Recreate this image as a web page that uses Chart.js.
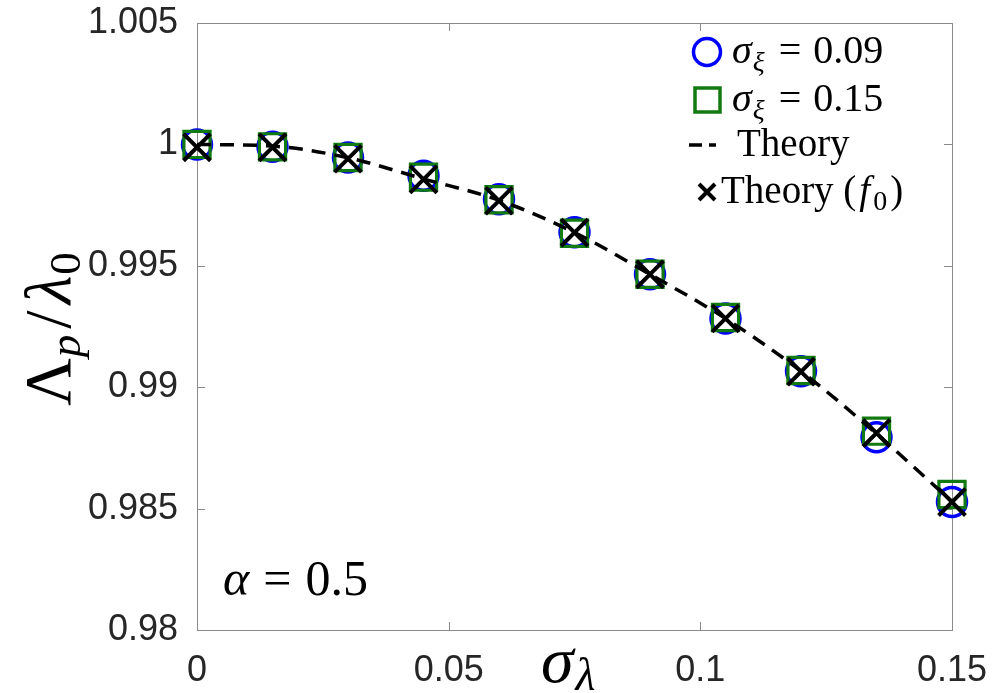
<!DOCTYPE html>
<html><head><meta charset="utf-8">
<script src="https://cdn.jsdelivr.net/npm/chart.js@4.4.0/dist/chart.umd.min.js"></script>
<style>html,body{margin:0;padding:0;background:#fff;} #wrap{width:996px;height:693px;position:relative;}</style>
</head><body><div id="wrap"><canvas id="c" width="996" height="693"></canvas></div>
<script>
// ---- data ----
const sigmaLambda = [0, 0.015, 0.03, 0.045, 0.06, 0.075, 0.09, 0.105, 0.12, 0.135, 0.15];
const sim009 = [1.0000, 0.99990, 0.99946, 0.99871, 0.99774, 0.99638, 0.99465, 0.99283, 0.99066, 0.98794, 0.98527];
const sim015 = [1.0000, 0.99990, 0.99946, 0.99865, 0.99772, 0.99634, 0.99465, 0.99287, 0.99069, 0.98819, 0.98558];
const theoryCurve = [1.0000, 0.99993, 0.99945, 0.99858, 0.99770, 0.99637, 0.99465, 0.99283, 0.99066, 0.98808, 0.98529];
const theoryF0 = [0.99988, 0.99988, 0.99941, 0.99856, 0.99768, 0.99637, 0.99465, 0.99283, 0.99064, 0.98811, 0.98527];
const xTicks = [0, 0.05, 0.1, 0.15];
const xTickLabels = ['0', '0.05', '0.1', '0.15'];
const yTicks = [0.98, 0.985, 0.99, 0.995, 1, 1.005];
const yTickLabels = ['0.98', '0.985', '0.99', '0.995', '1', '1.005'];
const legendLabels = ['σ', 'ξ', '= 0.09', '= 0.15', 'Theory', 'Theory (', 'f', '0', ')'];

const pts = arr => sigmaLambda.map((x, i) => ({x: x, y: arr[i]}));
const SERIF = "'Liberation Serif','DejaVu Serif',serif";
const SANS = "'Liberation Sans',Arial,Helvetica,sans-serif";

function drawPieces(ctx, x, y, pieces) {
  ctx.textAlign = 'left';
  ctx.textBaseline = 'alphabetic';
  let cx = x;
  for (const p of pieces) {
    ctx.font = p.font;
    if (p.gap) cx += p.gap;
    ctx.fillText(p.t, cx, y + (p.dy || 0));
    cx += ctx.measureText(p.t).width;
  }
  return cx;
}

const decor = {
  id: 'decor',
  beforeDatasetsDraw(chart) {
    const {ctx, chartArea: a, scales} = chart;
    ctx.save();
    ctx.strokeStyle = '#8a8a8a';
    ctx.lineWidth = 1;
    ctx.strokeRect(a.left + 0.5, a.top + 0.5, a.right - a.left, a.bottom - a.top);
    const tl = 8;
    ctx.beginPath();
    for (const v of yTicks) {
      const y = Math.round(scales.y.getPixelForValue(v)) + 0.5;
      ctx.moveTo(a.left, y); ctx.lineTo(a.left + tl, y);
      ctx.moveTo(a.right, y); ctx.lineTo(a.right - tl, y);
    }
    for (const v of xTicks) {
      const x = Math.round(scales.x.getPixelForValue(v)) + 0.5;
      ctx.moveTo(x, a.bottom); ctx.lineTo(x, a.bottom - tl);
      ctx.moveTo(x, a.top); ctx.lineTo(x, a.top + tl);
    }
    ctx.stroke();
    ctx.restore();
  },
  afterDraw(chart) {
    const {ctx} = chart;
    ctx.save();
    ctx.fillStyle = '#000';
    // y-axis title  Λp / λ0
    ctx.save();
    ctx.translate(70, 406);
    ctx.rotate(-Math.PI / 2);
    drawPieces(ctx, 0, 0, [
      {t: 'Λ', font: `66px ${SERIF}`},
      {t: 'p', font: `italic 45px ${SERIF}`, dy: 10, gap: 1},
      {t: '/', font: `66px ${SERIF}`, gap: 6},
      {t: 'λ', font: `italic 66px ${SERIF}`, gap: 6},
      {t: '0', font: `45px ${SERIF}`, dy: 10, gap: 1}
    ]);
    ctx.restore();
    // x-axis title σλ
    drawPieces(ctx, 541, 682, [
      {t: 'σ', font: `italic 66px ${SERIF}`},
      {t: 'λ', font: `italic 46px ${SERIF}`, dy: 8, gap: 2}
    ]);
    // annotation α = 0.5
    drawPieces(ctx, 223, 595, [
      {t: 'α', font: `italic 50px ${SERIF}`},
      {t: '=', font: `50px ${SERIF}`, gap: 14},
      {t: '0.5', font: `50px ${SERIF}`, gap: 14}
    ]);
    // legend
    ctx.lineWidth = 3.5;
    ctx.strokeStyle = '#0000ff';
    ctx.beginPath(); ctx.arc(707, 52, 13.5, 0, Math.PI * 2); ctx.stroke();
    ctx.strokeStyle = '#117a11';
    ctx.strokeRect(695, 88, 25, 24);
    ctx.strokeStyle = '#000';
    ctx.lineWidth = 3.5;
    ctx.setLineDash([13, 7]);
    ctx.beginPath(); ctx.moveTo(689, 145); ctx.lineTo(716, 145); ctx.stroke();
    ctx.setLineDash([]);
    ctx.lineWidth = 4;
    ctx.beginPath();
    ctx.moveTo(699, 184); ctx.lineTo(715, 200);
    ctx.moveTo(715, 184); ctx.lineTo(699, 200);
    ctx.stroke();
    const rowText = (base, val) => drawPieces(ctx, 732, base, [
      {t: legendLabels[0], font: `italic 40px ${SERIF}`},
      {t: legendLabels[1], font: `italic 28px ${SERIF}`, dy: 8, gap: 1},
      {t: val.slice(0, 1), font: `40px ${SERIF}`, gap: 14},
      {t: val.slice(2), font: `40px ${SERIF}`, gap: 12}
    ]);
    rowText(63, legendLabels[2]);
    rowText(111, legendLabels[3]);
    drawPieces(ctx, 737, 156, [{t: legendLabels[4], font: `39px ${SERIF}`}]);
    drawPieces(ctx, 721, 203, [
      {t: legendLabels[5], font: `39px ${SERIF}`},
      {t: legendLabels[6], font: `italic 39px ${SERIF}`, gap: 3},
      {t: legendLabels[7], font: `28px ${SERIF}`, dy: 7, gap: 3},
      {t: legendLabels[8], font: `39px ${SERIF}`, gap: 3}
    ]);
    ctx.restore();
  }
};

new Chart(document.getElementById('c'), {
  type: 'scatter',
  data: {
    datasets: [
      {label: 'σξ = 0.09', data: pts(sim009), order: 4, clip: false,
       pointStyle: 'circle', pointRadius: 14.5, pointHoverRadius: 14.5,
       borderColor: '#0000ff', backgroundColor: 'rgba(0,0,0,0)', pointBorderWidth: 3.5, borderWidth: 3.5},
      {label: 'σξ = 0.15', data: pts(sim015), order: 3, clip: false,
       pointStyle: 'rect', pointRadius: 18.5, pointHoverRadius: 18.5,
       borderColor: '#117a11', backgroundColor: 'rgba(0,0,0,0)', pointBorderWidth: 3.2, borderWidth: 3.2},
      {label: 'Theory', data: pts(theoryCurve), order: 2, clip: false, showLine: true,
       pointRadius: 0, pointHoverRadius: 0, borderColor: '#000', borderWidth: 3.5,
       borderDash: [14, 9], cubicInterpolationMode: 'monotone', fill: false},
      {label: 'Theory (f0)', data: pts(theoryF0), order: 1, clip: false,
       pointStyle: 'crossRot', pointRadius: 19, pointHoverRadius: 19,
       borderColor: '#000', backgroundColor: '#000', pointBorderWidth: 4, borderWidth: 4}
    ]
  },
  options: {
    responsive: false,
    animation: false,
    events: [],
    layout: {padding: {top: 22, right: 44, left: 0, bottom: 0}},
    plugins: {legend: {display: false}, tooltip: {enabled: false}},
    scales: {
      x: {
        type: 'linear', min: 0, max: 0.15,
        afterBuildTicks: s => { s.ticks = xTicks.map(v => ({value: v})); },
        afterFit: s => { s.height = 63; s.paddingLeft = 0; s.paddingRight = 0; },
        grid: {display: false}, border: {display: false},
        ticks: {autoSkip: false, maxRotation: 0, padding: 11, color: '#262626',
                font: {family: SANS, size: 36},
                callback: (v, i) => xTickLabels[i]}
      },
      y: {
        type: 'linear', min: 0.98, max: 1.005,
        afterBuildTicks: s => { s.ticks = yTicks.map(v => ({value: v})); },
        afterFit: s => { s.width = 197; s.paddingTop = 0; s.paddingBottom = 0; },
        grid: {display: false}, border: {display: false},
        ticks: {autoSkip: false, padding: 11, color: '#262626',
                font: {family: SANS, size: 36},
                callback: (v, i) => yTickLabels[i]}
      }
    }
  },
  plugins: [decor]
});
</script>
</body></html>
